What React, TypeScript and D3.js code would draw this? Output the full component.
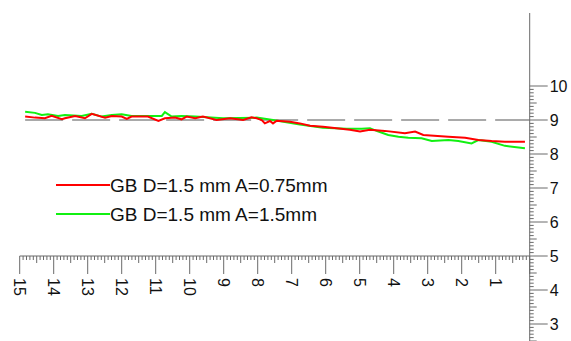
import React, { useMemo } from 'react';
import * as d3 from 'd3';

// distance along the sample (read right-to-left on the bottom axis)
const redX = [14.84, 14.55, 14.26, 14.06, 13.76, 13.67, 13.37, 13.08, 12.88, 12.49, 12.29, 12.0, 11.85, 11.71, 11.23, 10.92, 10.73, 10.43, 10.24, 10.09, 9.84, 9.61, 9.21, 8.81, 8.43, 8.18, 8.03, 7.88, 7.79, 7.64, 7.55, 7.44, 7.05, 6.76, 6.46, 6.08, 5.68, 5.29, 4.99, 4.7, 4.26, 3.67, 3.37, 3.13, 2.39, 1.9, 1.51, 1.12, 0.73, 0.14];
const redY = [9.1, 9.07, 9.05, 9.12, 9.02, 9.05, 9.12, 9.05, 9.18, 9.07, 9.12, 9.1, 9.03, 9.1, 9.1, 8.97, 9.05, 9.07, 9.02, 9.1, 9.05, 9.1, 9.0, 9.05, 9.0, 9.08, 9.05, 9.0, 8.9, 8.97, 8.9, 8.98, 8.95, 8.9, 8.83, 8.8, 8.76, 8.71, 8.66, 8.71, 8.68, 8.61, 8.66, 8.56, 8.51, 8.48, 8.41, 8.38, 8.36, 8.36];

const greenX = [14.84, 14.55, 14.35, 14.17, 13.87, 13.67, 13.18, 12.88, 12.59, 12.29, 12.0, 11.71, 11.23, 10.82, 10.73, 10.53, 10.24, 9.84, 9.02, 8.03, 7.55, 6.76, 6.08, 5.38, 4.94, 4.7, 4.45, 4.16, 3.86, 3.57, 3.18, 2.88, 2.39, 2.1, 1.71, 1.51, 1.12, 0.73, 0.14];
const greenY = [9.24, 9.21, 9.15, 9.17, 9.12, 9.15, 9.12, 9.18, 9.1, 9.15, 9.17, 9.12, 9.12, 9.12, 9.23, 9.1, 9.12, 9.1, 9.05, 9.07, 9.0, 8.87, 8.77, 8.74, 8.74, 8.76, 8.66, 8.56, 8.51, 8.48, 8.46, 8.38, 8.41, 8.38, 8.31, 8.41, 8.36, 8.24, 8.17];

const refValue = 9;
const xTickLabels = [15, 14, 13, 12, 11, 10, 9, 8, 7, 6, 5, 4, 3, 2, 1];
const yTickLabels = [3, 4, 5, 6, 7, 8, 9, 10];
const legendLabels = ['GB D=1.5 mm A=0.75mm', 'GB D=1.5 mm A=1.5mm'];
const seriesColors = ['#ff0000', '#11f011'];

const WIDTH = 571;
const HEIGHT = 341;
const axisColor = '#6a6a6a';
const font = "Arial, 'Liberation Sans', sans-serif";

const App = () => {
  const { xScale, yScale, redPath, greenPath } = useMemo(() => {
    const xScale = d3.scaleLinear().domain([15, 0]).range([19.7, 529.7]);
    const yScale = d3.scaleLinear().domain([5, 10]).range([256, 86]);

    const line = d3.line<[number, number]>()
      .x(d => xScale(d[0]))
      .y(d => yScale(d[1]));

    return {
      xScale,
      yScale,
      redPath: line(redX.map((x, i) => [x, redY[i]])),
      greenPath: line(greenX.map((x, i) => [x, greenY[i]]))
    };
  }, []);

  const axisY = yScale(5);
  const axisX = xScale(0);

  // tenths along both axes
  const xTicks = d3.range(0, 151).map(i => i / 10);
  const yTicks = d3.range(25, 101).map(i => i / 10);
  const tickLen = (v: number) => {
    const r = Math.round(v * 10) % 10;
    if (r === 0) return 18;
    if (r === 5) return 7;
    return 4;
  };

  return (
    <svg
      width={WIDTH}
      height={HEIGHT}
      style={{ position: 'absolute', left: 0, top: 0, fontFamily: font, background: '#fff' }}
    >
      {/* reference dashed line */}
      <line
        x1={xScale(14.84)}
        x2={axisX}
        y1={yScale(refValue)}
        y2={yScale(refValue)}
        stroke="#555"
        strokeWidth={1.2}
        strokeDasharray="38,9"
      />

      {/* series */}
      <path d={greenPath ?? ''} fill="none" stroke={seriesColors[1]} strokeWidth={2} />
      <path d={redPath ?? ''} fill="none" stroke={seriesColors[0]} strokeWidth={2} />

      {/* bottom axis */}
      <line x1={xScale(15)} x2={axisX} y1={axisY} y2={axisY} stroke={axisColor} />
      {xTicks.map(t => (
        <line
          key={`xt-${t}`}
          x1={xScale(t)}
          x2={xScale(t)}
          y1={axisY}
          y2={axisY + tickLen(t)}
          stroke={axisColor}
        />
      ))}
      {xTickLabels.map(t => (
        <text
          key={`xl-${t}`}
          transform={`translate(${xScale(t)}, ${axisY + 22}) rotate(90)`}
          dy="0.35em"
          textAnchor="start"
          style={{ fontSize: '16px' }}
          fill="#111"
        >
          {t}
        </text>
      ))}

      {/* right axis */}
      <line x1={axisX} x2={axisX} y1={13} y2={HEIGHT} stroke={axisColor} />
      {yTicks.map(t => (
        <line
          key={`yt-${t}`}
          x1={axisX}
          x2={axisX + tickLen(t)}
          y1={yScale(t)}
          y2={yScale(t)}
          stroke={axisColor}
        />
      ))}
      {yTickLabels.map(t => (
        <text
          key={`yl-${t}`}
          x={axisX + 20}
          y={yScale(t)}
          dy="0.35em"
          style={{ fontSize: '16px' }}
          fill="#111"
        >
          {t}
        </text>
      ))}

      {/* legend */}
      {legendLabels.map((label, i) => (
        <g key={label} transform={`translate(56, ${185 + i * 29})`}>
          <line x1={0} x2={54} y1={0} y2={0} stroke={seriesColors[i]} strokeWidth={2} />
          <text x={54} y={0} dy="0.35em" style={{ fontSize: '19px' }} fill="#111">
            {label}
          </text>
        </g>
      ))}
    </svg>
  );
};

export default App;
